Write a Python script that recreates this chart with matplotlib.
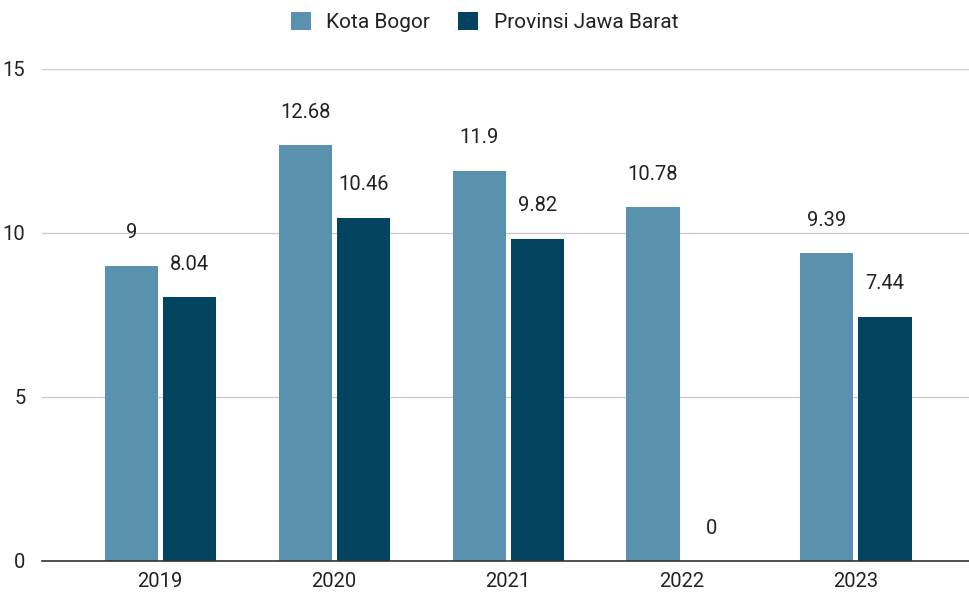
import matplotlib
matplotlib.use("Agg")
import matplotlib.pyplot as plt
import numpy as np

plt.rcParams['font.family'] = ['Roboto', 'DejaVu Sans']

years = ["2019", "2020", "2021", "2022", "2023"]
kota_bogor = [9, 12.68, 11.9, 10.78, 9.39]
jawa_barat = [8.04, 10.46, 9.82, 0, 7.44]
series_names = ["Kota Bogor", "Provinsi Jawa Barat"]
colors = ["#5a91af", "#02445f"]

fig = plt.figure(figsize=(9.69, 5.97), dpi=100)
ax = fig.add_axes([42/969, 1 - 561/597, (969-42)/969, (561-69)/597])

x = np.arange(len(years))
width = 0.305
offset = 0.167

ax.bar(x - offset, kota_bogor, width=width, color=colors[0], zorder=3)
ax.bar(x + offset, jawa_barat, width=width, color=colors[1], zorder=3)

for xs, vals in ((x - offset, kota_bogor), (x + offset, jawa_barat)):
    for xi, v in zip(xs, vals):
        ax.annotate(f"{v:g}", (xi, v), xytext=(0, 33), textcoords="offset pixels",
                    ha="center", va="center", fontsize=14.5, color="#222222")

ax.set_xlim(-0.68, 4.65)
ax.set_ylim(0, 15)
ax.set_yticks([0, 5, 10, 15])
ax.set_xticks(x)
ax.set_xticklabels(years)
ax.tick_params(axis="both", length=0, labelsize=14.5, colors="#222222")
ax.tick_params(axis="x", pad=8)
ax.tick_params(axis="y", pad=12)
ax.grid(axis="y", color="#cccccc", linewidth=1, zorder=0)
for s in ["top", "right", "left"]:
    ax.spines[s].set_visible(False)
ax.spines["bottom"].set_color("#333333")
ax.spines["bottom"].set_linewidth(1.2)
ax.spines["bottom"].set_zorder(4)

handles = [plt.Rectangle((0, 0), 1, 1, fc=c, ec="none") for c in colors]
fig.legend(handles, series_names, loc="center", bbox_to_anchor=(0.5, 1 - 22/597),
           ncol=2, frameon=False, fontsize=15, handlelength=0.95, handleheight=0.95,
           columnspacing=1.35, handletextpad=0.75, labelcolor="#222222")

fig.savefig("out.png", dpi=100)
